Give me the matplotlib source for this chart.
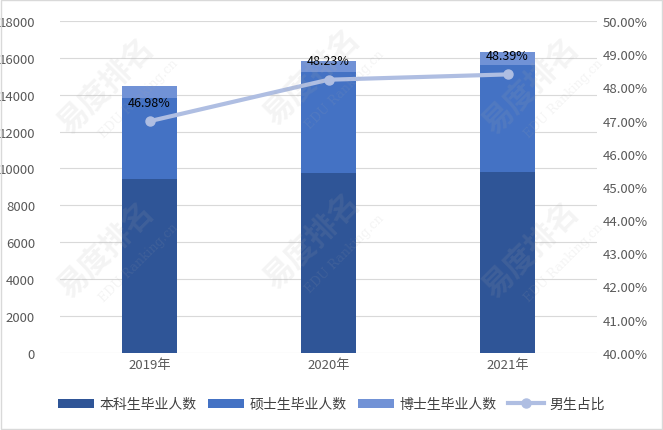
import matplotlib
matplotlib.use("Agg")
import matplotlib.pyplot as plt
from matplotlib.ticker import FuncFormatter
import numpy as np

plt.rcParams['font.family'] = ['Noto Sans CJK SC', 'DejaVu Sans']

years = ["2019年", "2020年", "2021年"]
bachelor = [9440, 9745, 9830]
master = [4390, 5510, 5805]
doctor = [650, 580, 705]
male_ratio = [46.98, 48.23, 48.39]
series_names = ["本科生毕业人数", "硕士生毕业人数", "博士生毕业人数", "男生占比"]

c_bach = '#2F5597'
c_mast = '#4472C4'
c_doc = '#7192D6'
c_line = '#AFBEE2'
tick_color = '#595959'

fig = plt.figure(figsize=(6.63, 4.31), dpi=100)
ax = fig.add_axes([0.0905, 0.179, 0.81, 0.77])
x = np.arange(len(years))
w = 0.31
ax.bar(x, bachelor, w, color=c_bach, label=series_names[0], zorder=3)
ax.bar(x, master, w, bottom=bachelor, color=c_mast, label=series_names[1], zorder=3)
bm = [a + b for a, b in zip(bachelor, master)]
ax.bar(x, doctor, w, bottom=bm, color=c_doc, label=series_names[2], zorder=3)
ax.set_xlim(-0.5, 2.5)
ax.set_ylim(0, 18000)
ax.set_yticks(np.arange(0, 18001, 2000))
ax.grid(axis='y', color='#D9D9D9', linewidth=0.8, zorder=0)
for s in ax.spines.values():
    s.set_visible(False)
ax.tick_params(axis='both', length=0, colors=tick_color, labelsize=9.5)
ax.tick_params(axis='y', pad=18)
ax.set_xticks(x)
ax.set_xticklabels(years)

ax2 = ax.twinx()
ax2.set_ylim(40, 50)
ax2.set_yticks(np.arange(40, 50.01, 1))
ax2.yaxis.set_major_formatter(FuncFormatter(lambda v, p: f"{v:.2f}%"))
for s in ax2.spines.values():
    s.set_visible(False)
ax2.tick_params(axis='y', length=0, colors=tick_color, labelsize=9.5, pad=4)
ln, = ax2.plot(x, male_ratio, color=c_line, linewidth=3, marker='o', markersize=6.5,
               label=series_names[3], zorder=5)
for xi, v in zip(x, male_ratio):
    ax2.annotate(f"{v:.2f}%", (xi, v), xytext=(0, 9), textcoords='offset points',
                 ha='center', va='bottom', fontsize=9, color='black')

# faint watermarks (kept inside the figure)
for (fx, fy) in [(0.16, 0.80), (0.47, 0.82), (0.80, 0.80),
                 (0.16, 0.42), (0.47, 0.44), (0.80, 0.42)]:
    fig.text(fx, fy, "易度排名", fontsize=22, rotation=45, color='#AAAAAA', alpha=0.13,
             ha='center', va='center', fontweight='bold', zorder=10)
    fig.text(fx + 0.05, fy - 0.03, "EDU Ranking.cn", fontsize=9, rotation=45, color='#AAAAAA',
             alpha=0.13, ha='center', va='center', zorder=10, family='DejaVu Serif')

h1, l1 = ax.get_legend_handles_labels()
h2, l2 = ax2.get_legend_handles_labels()
fig.legend(h1 + h2, l1 + l2, loc='center', bbox_to_anchor=(0.5, 0.06), ncol=4, frameon=False,
           fontsize=10, handlelength=2.6, handleheight=0.6, columnspacing=0.8, handletextpad=0.4,
           labelcolor='#404040')

fig.patches.append(plt.Rectangle((0.002, 0.002), 0.996, 0.996, transform=fig.transFigure,
                                 fill=False, edgecolor='#D9D9D9', linewidth=1))
fig.savefig("out.png", dpi=100)
